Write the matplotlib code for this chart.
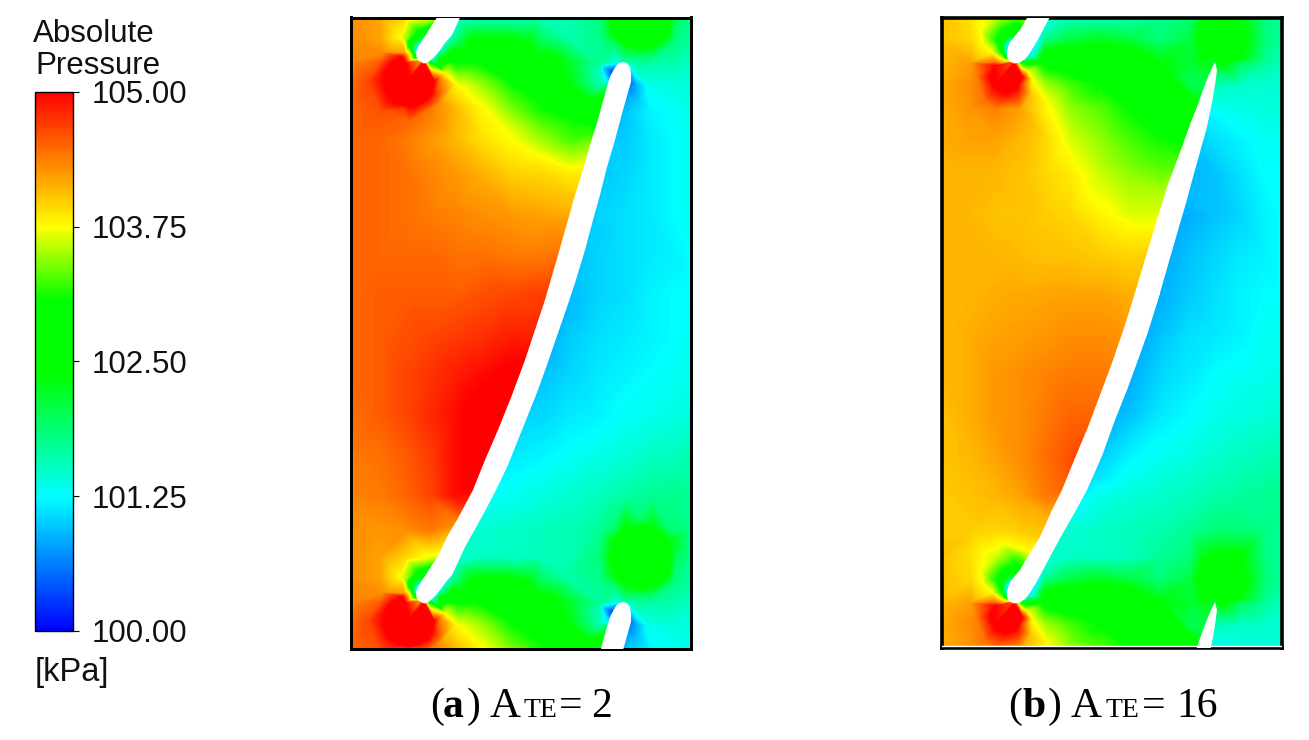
import numpy as np
import matplotlib
matplotlib.use("Agg")
import matplotlib.pyplot as plt
import matplotlib.tri as mtri
from matplotlib.path import Path
from matplotlib.colors import LinearSegmentedColormap, Normalize
from matplotlib.cm import ScalarMappable

W, H = 1309, 740
pitch = 540
n = np.nan

# colour scale of the legend (kPa)
scale_values = [100.0, 101.25, 102.38, 103.07, 103.75, 105.0]
scale_colors = ["#0000ff", "#00ffff", "#00ff00", "#00ff00", "#ffff00", "#ff0000"]
tick_values = [100.0, 101.25, 102.5, 103.75, 105.0]

# sampled pressure, rows repeat one blade pitch further down
grid_y = [17, 40, 63, 85, 109, 140, 175, 215, 255, 295, 335, 375, 415, 455, 495, 530]

a_grid_x = [351, 380, 405, 430, 455, 480, 510, 540, 570, 600, 625, 650, 675, 691]
a_grid_p = [
    [104.3, 104.2, 103.95, 103.7, n, 101.5, 101.5, 101.55, 101.6, 101.85, 102.65, 102.7, 102.0, 101.75],
    [104.3, 104.2, 103.5, n, 101.8, 102.45, 102.45, 102.0, 101.65, 101.75, 102.5, 102.5, 101.8, 101.7],
    [104.35, 104.55, 105.0, n, 103.05, 103.05, 102.75, 102.5, 102.2, 101.7, n, 101.65, 101.6, 101.5],
    [104.45, 104.9, 105.3, 105.05, 103.8, 103.5, 103.1, 102.7, 102.35, 101.6, n, 101.35, 101.4, 101.4],
    [104.5, 104.6, 104.7, 104.4, 104.1, 103.78, 103.4, 103.1, 102.9, n, 100.95, 101.2, 101.3, 101.35],
    [104.5, 104.5, 104.4, 104.25, 104.1, 103.9, 103.75, 103.5, 103.25, n, 101.0, 101.15, 101.25, 101.3],
    [104.5, 104.5, 104.45, 104.35, 104.25, 104.15, 104.0, 103.95, 103.85, n, 101.05, 101.15, 101.25, 101.3],
    [104.5, 104.5, 104.45, 104.4, 104.35, 104.3, 104.25, 104.2, 104.15, 101.05, 101.1, 101.15, 101.25, 101.3],
    [104.5, 104.5, 104.5, 104.5, 104.45, 104.45, 104.4, 104.4, n, 101.05, 101.1, 101.15, 101.2, 101.25],
    [104.5, 104.55, 104.55, 104.55, 104.55, 104.6, 104.65, 104.7, 101.0, 101.05, 101.1, 101.2, 101.25, 101.25],
    [104.5, 104.55, 104.6, 104.65, 104.7, 104.75, 104.85, n, 101.0, 101.1, 101.15, 101.2, 101.25, 101.3],
    [104.5, 104.55, 104.65, 104.75, 104.85, 104.95, 105.05, n, 101.05, 101.15, 101.2, 101.25, 101.3, 101.32],
    [104.45, 104.55, 104.65, 104.8, 104.95, 105.1, n, 101.05, 101.15, 101.2, 101.28, 101.32, 101.36, 101.4],
    [104.4, 104.45, 104.55, 104.7, 104.95, 105.15, 101.15, 101.2, 101.28, 101.35, 101.42, 101.5, 101.55, 101.6],
    [104.35, 104.4, 104.5, 104.65, 104.95, n, 101.3, 101.38, 101.45, 101.55, 101.65, 101.72, 101.75, 101.72],
    [104.3, 104.25, 104.3, 104.4, n, 101.45, 101.5, 101.55, 101.6, 101.7, 102.42, 102.5, 101.85, 101.75],
]
a_ps_x = [424, 419, 416.5, 416, 418, 421, 427, 432, 436, 440, 448, 457, 465, 473, 485, 498, 512, 525, 535, 545, 556, 568, 575, 583, 590, 597, 602, 607, 610, 613, 616, 619, 623]
a_ps_y = [603.5, 601, 597, 592, 587, 582, 573, 565, 559, 552, 535, 520, 505, 490, 460, 430, 395, 360, 330, 300, 262, 220, 195, 170, 145, 123, 105, 87, 77, 71, 66, 63, 62]
a_ps_p = [105, 104, 102.5, 101.0, 101.1, 101.6, 102.5, 103.1, 103.5, 103.8, 104.1, 104.4, 104.8, 105, 105.2, 105.2, 105.1, 105, 104.8, 104.7, 104.5, 104.2, 104.0, 103.8, 103.4, 103.0, 102.7, 102.0, 100.6, 100.3, 100.8, 101.3, 101.6]
a_ss_x = [627, 630, 631, 631, 627, 623, 615, 607, 600, 593, 585, 575, 566, 558, 548, 538, 528, 518, 508, 496, 484, 465, 452, 445, 440, 436, 432, 428]
a_ss_y = [63, 67, 74, 82, 96, 110, 140, 167, 195, 220, 250, 283, 310, 333, 362, 390, 415, 440, 465, 490, 513, 547, 575, 583, 590, 595, 599, 602.5]
a_ss_p = [101.6, 101.3, 100.9, 100.5, 100.8, 100.9, 101, 101, 101, 101, 100.98, 100.95, 100.9, 100.88, 100.92, 100.97, 101.05, 101.1, 101.18, 101.25, 101.35, 101.5, 101.5, 101.4, 101.1, 101.0, 101.0, 103]
a_extra_x = [400, 407, 408, 417, 412, 416, 404, 410, 414,
             384, 386, 392, 402, 434, 432, 427, 418, 409, 400, 391, 386,
             369, 380, 409, 440, 383,
             445, 460, 483, 507, 533, 440, 436,
             450, 473, 507, 540, 573, 595, 440, 473, 527, 553, 567, 587, 604, 600, 603, 638, 640, 636,
             610, 614, 619, 628, 641, 654, 663, 668, 672, 628, 641, 654, 619, 663, 614, 668,
             641, 613, 669, 641, 613, 669]
a_extra_y = [37, 20, 47, 30, 45, 38, 53, 54, 56,
             81, 71, 63, 57, 81, 91, 99, 104, 106, 104, 99, 91,
             81, 110, 121, 103, 53,
             74, 87, 107, 133, 153, 80, 95,
             62, 63, 80, 103, 120, 127, 57, 38, 42, 57, 87, 100, 68, 72, 62, 85, 100, 70,
             17, 33, 39, 45, 48, 45, 39, 33, 17, 530, 527, 530, 535, 535, 542, 542,
             57, 45, 45, 517, 529, 529]
a_extra_p = [103.75, 103.75, 103.07, 103.07, 102.3, 102.4, 104.2, 103.6, 103.2,
             105, 105, 105, 105, 105, 105, 105, 105, 105, 105, 105, 105,
             104.65, 104.6, 104.5, 104.25, 104.3,
             103.75, 103.75, 103.75, 103.75, 103.75, 104.35, 104.7,
             103.07, 103.07, 103.07, 103.07, 103.07, 103.07, 102.38, 102.38, 102.38, 102.38, 102.38, 102.38, 100.9, 101.5, 101.7, 100.9, 101.0, 101.5,
             102.38, 102.38, 102.38, 102.38, 102.38, 102.38, 102.38, 102.38, 102.38, 102.38, 102.38, 102.38, 102.38, 102.38, 102.38, 102.38,
             101.85, 101.85, 101.85, 101.85, 101.85, 101.85]

b_grid_x = [941, 970, 995, 1020, 1045, 1070, 1100, 1130, 1160, 1190, 1215, 1240, 1265, 1282]
b_grid_p = [
    [104.05, 103.9, 103.6, 103.3, n, 101.5, 101.5, 101.55, 101.7, 101.85, 102.45, 102.45, 101.8, 101.7],
    [104.05, 103.95, 103.1, n, 101.8, 102.1, 102.25, 102.1, 101.85, 102.1, 102.7, 102.6, 101.85, 101.7],
    [104.1, 104.2, 104.5, n, 102.95, 102.85, 102.7, 102.55, 102.35, 102.15, n, 101.95, 101.7, 101.55],
    [104.15, 104.3, 105.0, 104.8, 103.5, 103.25, 103.05, 102.85, 102.6, 102.0, n, 101.5, 101.45, 101.45],
    [104.15, 104.25, 104.35, 104.2, 103.8, 103.45, 103.3, 103.05, 102.85, 102.55, 101.3, 101.35, 101.4, 101.4],
    [104.15, 104.2, 104.2, 104.1, 103.95, 103.65, 103.45, 103.25, 103.1, n, 101.1, 101.2, 101.3, 101.3],
    [104.1, 104.1, 104.1, 104.05, 103.95, 103.85, 103.6, 103.45, 103.35, n, 100.95, 101.1, 101.25, 101.25],
    [104.1, 104.1, 104.05, 104.05, 104.0, 103.95, 103.8, 103.65, n, 100.85, 100.95, 101.05, 101.2, 101.25],
    [104.1, 104.1, 104.1, 104.08, 104.05, 104.05, 104.0, 103.95, n, 100.95, 101.05, 101.15, 101.2, 101.25],
    [104.1, 104.12, 104.15, 104.17, 104.18, 104.2, 104.2, 104.15, 100.85, 101.0, 101.1, 101.2, 101.25, 101.25],
    [104.1, 104.15, 104.2, 104.22, 104.25, 104.3, 104.3, n, 100.95, 101.1, 101.15, 101.2, 101.3, 101.3],
    [104.1, 104.15, 104.25, 104.3, 104.35, 104.4, 104.4, n, 101.05, 101.15, 101.25, 101.3, 101.33, 101.36],
    [104.05, 104.15, 104.25, 104.3, 104.4, 104.5, n, 100.95, 101.15, 101.25, 101.32, 101.38, 101.42, 101.45],
    [104.05, 104.1, 104.2, 104.3, 104.45, 104.6, n, 101.2, 101.3, 101.38, 101.45, 101.52, 101.58, 101.62],
    [104.0, 104.05, 104.1, 104.2, 104.4, n, 101.35, 101.42, 101.48, 101.55, 101.62, 101.68, 101.72, 101.75],
    [104.0, 104.0, 103.95, 104.0, n, 101.45, 101.5, 101.55, 101.62, 101.72, 101.85, 101.85, 101.78, 101.72],
]
b_ps_x = [1014, 1009, 1007, 1007, 1008, 1010, 1014, 1020, 1030, 1040, 1052, 1062, 1075, 1088, 1100, 1112, 1124, 1135, 1146, 1157, 1167, 1182, 1191, 1197, 1203, 1208, 1212, 1215]
b_ps_y = [603.5, 601, 597, 592, 587, 582, 577, 570, 553, 537, 510, 490, 458, 427, 395, 363, 328, 293, 256, 220, 187, 147, 122, 107, 90, 77, 68, 62]
b_ps_p = [105, 103.5, 102, 101, 100.8, 101.3, 102.3, 102.9, 103.7, 104, 104.2, 104.5, 104.65, 104.55, 104.45, 104.35, 104.25, 104.1, 104, 103.7, 103.5, 103.1, 102.7, 102.4, 102.1, 102.1, 102.2, 102.2]
b_ss_x = [1217, 1215, 1213, 1207, 1200, 1193, 1186, 1181, 1170, 1158, 1148, 1138, 1127, 1115, 1102, 1087, 1075, 1063, 1052, 1043, 1036, 1030, 1025, 1020]
b_ss_y = [70, 85, 97, 127, 152, 177, 203, 220, 258, 300, 332, 360, 390, 420, 456, 490, 512, 533, 553, 570, 583, 593, 599, 602.5]
b_ss_p = [102, 101.6, 101.4, 101.1, 100.95, 100.9, 100.9, 100.85, 100.85, 100.85, 100.85, 100.85, 100.85, 100.9, 101, 101.15, 101.3, 101.45, 101.5, 101.35, 101.1, 101, 100.9, 103]
b_extra_x = [1003, 985, 1027, 980, 982, 992, 1003, 997, 1001, 1002, 1015, 1002, 1005, 1008,
             990, 1022, 1006, 1006, 995, 1017, 995, 1017, 976, 985, 1006, 1030,
             1027, 1032, 1047, 1055, 1063, 1077, 1107, 1137, 1027, 1063, 1097, 1130, 1163, 1030, 1063, 1097, 1130, 1163, 1183,
             1197, 1247, 1222, 1204, 1240, 1204, 1240, 1222]
b_extra_y = [543, 553, 550, 30, 43, 53, 59, 43, 53, 30, 23, 43, 50, 36,
             77, 77, 93, 61, 66, 66, 88, 88, 77, 100, 108, 95,
             72, 80, 103, 120, 143, 170, 207, 227, 65, 73, 90, 113, 137, 57, 47, 45, 48, 67, 90,
             39, 39, 64, 57, 57, 21, 21, 554]
b_extra_p = [103.75, 103.75, 103.75, 103.75, 103.75, 103.75, 103.6, 103.07, 103.07, 103.07, 103.07, 102.4, 101.7, 102.2,
             105, 105, 105, 105, 105, 105, 105, 105, 104.35, 104.45, 104.3, 104.05,
             103.75, 103.75, 103.75, 103.75, 103.75, 103.75, 103.75, 103.75, 103.07, 103.07, 103.07, 103.07, 103.07, 102.38, 102.38, 102.38, 102.38, 102.38, 102.38,
             102.38, 102.38, 102.38, 102.38, 102.38, 102.38, 102.38, 102.38]

plt.rcParams["font.family"] = ["Liberation Sans", "DejaVu Sans"]
cmap = LinearSegmentedColormap.from_list(
    "pressure", [((v - 100) / 5, c) for v, c in zip(scale_values, scale_colors)], N=512)
norm = Normalize(100, 105)
levels = np.linspace(100, 105, 251)


def finer(v):
    # extra mesh nodes between the read blade-edge samples, so the triangles follow the edge
    i = np.arange(len(v))
    return np.interp(np.arange(0, len(v) - 1 + 0.01, 0.25), i, v)


def draw_panel(box, spine_px, gx, gp, ps_x, ps_y, ps_p, ss_x, ss_y, ss_p, ex_x, ex_y, ex_p):
    x0, x1, y0, y1 = box
    ax = fig.add_axes([x0 / W, 1 - y1 / H, (x1 - x0) / W, (y1 - y0) / H])
    ax.set_xlim(x0, x1)
    ax.set_ylim(y1, y0)
    ax.set_xticks([])
    ax.set_yticks([])
    for s in ax.spines.values():
        s.set_linewidth(spine_px * 72 / 100)

    outline_x = np.r_[finer(ps_x), finer(ss_x)]
    outline_y = np.r_[finer(ps_y), finer(ss_y)]
    outline_p = np.r_[finer(ps_p), finer(ss_p)]
    blades = [Path(np.c_[outline_x, outline_y + k * pitch]) for k in (-1, 0, 1)]

    gxx, gyy = np.meshgrid(gx, grid_y)
    pts_x = np.r_[gxx.ravel(), ex_x]
    pts_y = np.r_[gyy.ravel(), ex_y]
    pts_p = np.r_[np.array(gp).ravel(), ex_p]
    ok = np.isfinite(pts_p)
    pts_x, pts_y, pts_p = pts_x[ok], pts_y[ok], pts_p[ok]

    # one pitch further down
    low = pts_y + pitch <= 650
    all_x = np.r_[pts_x, pts_x[low]]
    all_y = np.r_[pts_y, pts_y[low] + pitch]
    all_p = np.r_[pts_p, pts_p[low]]

    # nodes right on the blade edge only make slivers
    keep = np.ones(len(all_x), bool)
    for b in blades:
        keep &= ~b.contains_points(np.c_[all_x, all_y])
    for k in (-1, 0, 1):
        for ox, oy in zip(outline_x, outline_y + k * pitch):
            keep &= np.hypot(all_x - ox, all_y - oy) > 4
    all_x, all_y, all_p = all_x[keep], all_y[keep], all_p[keep]

    for k in (-1, 0, 1):
        yy = outline_y + k * pitch
        m = (yy > -40) & (yy < 690)
        all_x = np.r_[all_x, outline_x[m]]
        all_y = np.r_[all_y, yy[m]]
        all_p = np.r_[all_p, outline_p[m]]

    tri = mtri.Triangulation(all_x, all_y)
    cx = all_x[tri.triangles].mean(axis=1)
    cy = all_y[tri.triangles].mean(axis=1)
    mask = np.zeros(len(cx), bool)
    for b in blades:
        mask |= b.contains_points(np.c_[cx, cy])
    tri.set_mask(mask)

    ax.tricontourf(tri, all_p, levels=levels, cmap=cmap, norm=norm, extend="both", antialiased=False)
    for b in blades:
        ax.fill(b.vertices[:, 0], b.vertices[:, 1], color="white", lw=0, zorder=3)
    return ax


fig = plt.figure(figsize=(W / 100, H / 100), dpi=100)

draw_panel((351, 691, 17.5, 648.5), 3, a_grid_x, a_grid_p, a_ps_x, a_ps_y, a_ps_p, a_ss_x, a_ss_y, a_ss_p,
           a_extra_x, a_extra_y, a_extra_p)
axb = draw_panel((941.5, 1282, 17.5, 648), 3.6, b_grid_x, b_grid_p, b_ps_x, b_ps_y, b_ps_p, b_ss_x, b_ss_y, b_ss_p,
                 b_extra_x, b_extra_y, b_extra_p)
axb.axhline(646, color="white", lw=1, zorder=4)

# legend
cax = fig.add_axes([34.5 / W, 1 - 631 / H, 38.5 / W, 539 / H])
cb = fig.colorbar(ScalarMappable(norm=norm, cmap=cmap), cax=cax, ticks=tick_values, format="%.2f")
cb.outline.set_linewidth(1)
cb.ax.tick_params(length=4.5, width=0.8, labelsize=22.5, pad=9, labelcolor="#111111")

# all free text is placed in pixel units
page = fig.add_axes([0, 0, 1, 1], zorder=10)
page.set_xlim(0, W)
page.set_ylim(H, 0)
page.axis("off")
page.patch.set_alpha(0)
page.text(33, 42, "Absolute", fontsize=22.5, color="#111111")
page.text(35, 74, "Pressure", fontsize=22.5, color="#111111")
page.text(35, 681, "[kPa]", fontsize=23.5, color="#111111")

serif = ["Liberation Serif", "DejaVu Serif"]
page.text(430, 717, "(", fontsize=30, family=serif)
page.text(443, 717, "a", fontsize=30, family=serif, weight="bold")
page.text(467, 717, ")", fontsize=30, family=serif)
page.text(490, 717, "A", fontsize=31, family=serif)
page.text(524, 717, "TE", fontsize=20, family=serif)
page.text(559, 717, "=", fontsize=30, family=serif)
page.text(591, 717, "2", fontsize=30, family=serif)

page.text(1008, 717, "(", fontsize=30, family=serif)
page.text(1022, 717, "b", fontsize=30, family=serif, weight="bold")
page.text(1048, 717, ")", fontsize=30, family=serif)
page.text(1071, 717, "A", fontsize=31, family=serif)
page.text(1106, 717, "TE", fontsize=20, family=serif)
page.text(1142, 717, "=", fontsize=30, family=serif)
page.text(1176, 717, "16", fontsize=30, family=serif)

fig.savefig("out.png", dpi=100)
